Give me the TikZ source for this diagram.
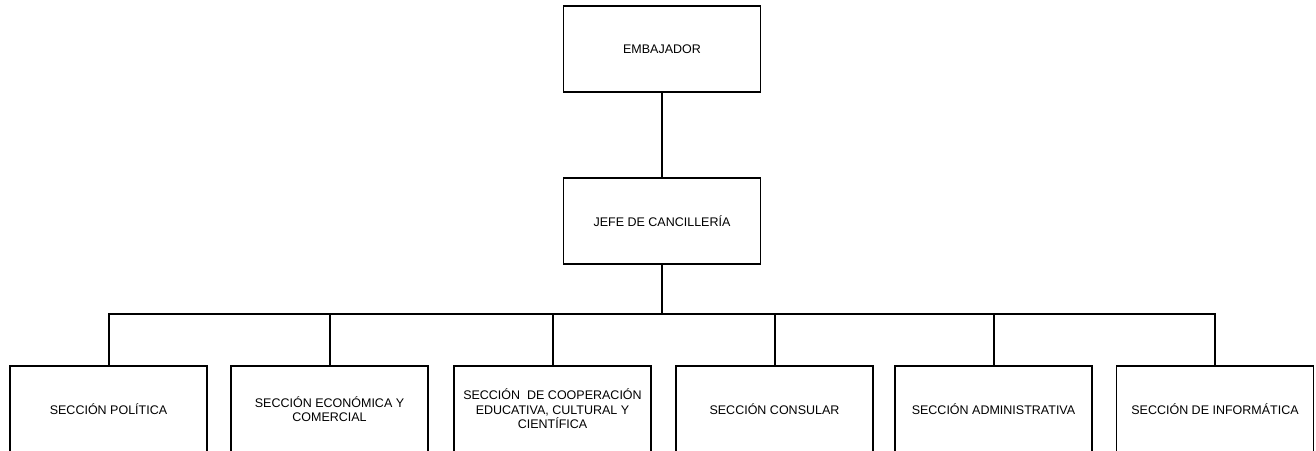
\documentclass[tikz,border=0pt]{standalone}
\usepackage{fontspec}
\setmainfont{Liberation Sans}
\usepackage{tikz}
\usetikzlibrary{calc}

\begin{document}
\begin{tikzpicture}[x=1pt,y=-1pt,
    cargo/.style={draw,line width=1.6pt,minimum width=197pt,minimum height=86pt,
        inner sep=2pt,align=center,font=\fontsize{12.5}{14.5}\selectfont},
    enlace/.style={line width=2pt}]
            \useasboundingbox (0,0) rectangle (1316,450);
            % direccion
            \node[cargo] (emb) at (662,49) {EMBAJADOR};
            \node[cargo] (jefe) at (662,221) {JEFE DE CANCILLERÍA};
            % secciones
            \node[cargo] (sec1) at (108.5,409) {SECCIÓN POLÍTICA};
            \node[cargo] (sec2) at (329.5,409) {SECCIÓN ECONÓMICA Y\\COMERCIAL};
            \node[cargo] (sec3) at (552.5,409) {SECCIÓN\ \ DE COOPERACIÓN\\EDUCATIVA, CULTURAL Y\\CIENTÍFICA};
            \node[cargo] (sec4) at (774.5,409) {SECCIÓN CONSULAR};
            \node[cargo] (sec5) at (993.5,409) {SECCIÓN ADMINISTRATIVA};
            \node[cargo] (sec6) at (1215,409) {SECCIÓN DE INFORMÁTICA};
            \coordinate (bus) at (662,314);
            \draw[enlace] (emb) -- (jefe);
            \draw[enlace] (jefe) -- (bus);
            \draw[enlace] (sec1.north) -- (sec1.north |- bus) -- (sec6.north |- bus) -- (sec6.north);
            \draw[enlace] (sec2.north) -- (sec2.north |- bus);
            \draw[enlace] (sec3.north) -- (sec3.north |- bus);
            \draw[enlace] (sec4.north) -- (sec4.north |- bus);
            \draw[enlace] (sec5.north) -- (sec5.north |- bus);
        \end{tikzpicture}
\end{document}
